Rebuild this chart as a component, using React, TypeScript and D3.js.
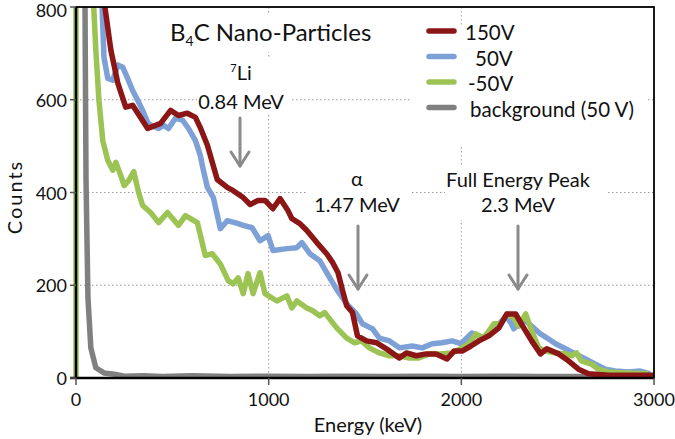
import React from 'react';
import * as d3 from 'd3';

// Energy (keV), Counts
const SERIES_150V: [number, number][] = [
  [60, 4000], [145, 815], [181, 707], [217, 636], [258, 584], [294, 588], [372, 538], [439, 549],
  [491, 577], [532, 566], [578, 571], [620, 562], [645, 540], [682, 502], [733, 428], [785, 411],
  [816, 404], [868, 389], [904, 374], [945, 383], [981, 383], [1022, 365], [1059, 387], [1100, 361],
  [1120, 344], [1162, 333], [1198, 318], [1250, 292], [1301, 268], [1332, 249], [1360, 227],
  [1384, 188], [1405, 156], [1435, 141], [1461, 91], [1508, 80], [1560, 76], [1611, 63], [1678, 43],
  [1715, 54], [1766, 48], [1818, 52], [1869, 52], [1926, 41], [1962, 58], [2004, 58], [2050, 69],
  [2091, 80], [2143, 91], [2195, 108], [2236, 138], [2282, 138], [2324, 108], [2365, 80],
  [2411, 52], [2443, 63], [2505, 52], [2556, 37], [2608, 19], [2660, 9], [2763, 6], [3000, 6],
];

const SERIES_50V: [number, number][] = [
  [50, 4000], [134, 815], [145, 692], [165, 646], [191, 642], [217, 675], [243, 670], [268, 646],
  [294, 620], [320, 599], [346, 577], [372, 551], [387, 545], [429, 538], [454, 545], [480, 538],
  [516, 560], [553, 556], [584, 538], [620, 512], [645, 480], [661, 448], [682, 411], [713, 389],
  [749, 322], [785, 339], [826, 335], [868, 329], [914, 324], [955, 296], [997, 307], [1022, 275],
  [1095, 279], [1146, 281], [1172, 292], [1214, 268], [1265, 253], [1317, 216], [1358, 188],
  [1405, 160], [1456, 138], [1487, 117], [1539, 106], [1575, 86], [1627, 80], [1678, 65],
  [1745, 69], [1797, 65], [1849, 74], [1900, 76], [1952, 80], [1998, 74], [2055, 97], [2107, 86],
  [2159, 102], [2210, 123], [2231, 134], [2257, 119], [2272, 106], [2298, 117], [2334, 123],
  [2365, 112], [2411, 95], [2453, 84], [2489, 74], [2541, 63], [2592, 52], [2644, 41], [2696, 30],
  [2747, 19], [2799, 15], [2866, 13], [2928, 15], [2980, 9],
];

const SERIES_M50V: [number, number][] = [
  [0, 0], [0, 6000], [92, 800], [103, 707], [119, 599], [139, 512], [165, 469], [191, 448],
  [207, 465], [232, 437], [250, 415], [274, 426], [300, 445], [325, 400], [346, 372], [387, 357],
  [429, 335], [475, 357], [532, 329], [568, 350], [630, 335], [671, 264], [707, 268], [749, 246],
  [790, 210], [816, 203], [842, 216], [868, 182], [893, 225], [919, 182], [955, 227], [981, 182],
  [1043, 166], [1095, 177], [1120, 151], [1146, 166], [1198, 151], [1229, 145], [1265, 134],
  [1291, 141], [1353, 108], [1405, 86], [1446, 76], [1482, 80], [1523, 65], [1575, 54], [1627, 48],
  [1680, 48], [1730, 43], [1780, 43], [1833, 52], [1885, 52], [1952, 54], [2004, 65], [2040, 74],
  [2076, 95], [2117, 86], [2169, 117], [2205, 117], [2236, 138], [2272, 130], [2298, 112],
  [2334, 138], [2365, 102], [2401, 65], [2437, 58], [2489, 54], [2541, 52], [2572, 48], [2598, 54],
  [2623, 37], [2675, 30], [2711, 19], [2763, 13], [2850, 11], [2969, 9],
];

const SERIES_BG: [number, number][] = [
  [30, 2000], [52, 426], [62, 173], [77, 65], [103, 22], [145, 11], [200, 8], [250, 4], [350, 5],
  [450, 3], [600, 5], [800, 3], [1000, 4], [1200, 3], [1400, 4], [1600, 3], [1800, 4], [2000, 3],
  [2200, 4], [2400, 3], [2600, 3], [2800, 3], [3000, 3],
];

const X_TICKS = [0, 1000, 2000, 3000];
const Y_TICKS = [0, 200, 400, 600, 800];
const GRID_X = [1000, 2000];
const GRID_Y = [200, 400, 600];

const LEGEND = [
  { label: '150V', color: '#8c1515', dx: 0 },
  { label: '50V', color: '#7da0d7', dx: 10 },
  { label: '-50V', color: '#9cc455', dx: 3 },
  { label: 'background (50 V)', color: '#808080', dx: 5 },
];

const FONT = 'Lato, "Open Sans", sans-serif';

export default function App() {
  const W = 675;
  const H = 439;
  const left = 76, right = 654, top = 7, bottom = 378;

  const x = d3.scaleLinear().domain([0, 3000]).range([left, right]);
  const y = d3.scaleLinear().domain([0, 800]).range([bottom, top]);

  const line = d3.line<[number, number]>()
    .x((d) => x(d[0]))
    .y((d) => y(d[1]));

  const curves = [
    { data: SERIES_50V, color: '#7da0d7' },
    { data: SERIES_M50V, color: '#9cc455' },
    { data: SERIES_BG, color: '#808080' },
    { data: SERIES_150V, color: '#8c1515' },
  ];

  const arrow = (ax: number, y1: number, y2: number) => (
    <g stroke="#8a8a8a" strokeWidth={3} fill="none" strokeLinecap="round" strokeLinejoin="round">
      <line x1={ax} x2={ax} y1={y1} y2={y2} />
      <polyline points={`${ax - 9},${y2 - 14} ${ax},${y2} ${ax + 9},${y2 - 14}`} />
    </g>
  );

  return (
    <svg width={W} height={H} style={{ position: 'absolute', left: 0, top: 0, background: '#fff' }}
      fontFamily={FONT}>
      <defs>
        <clipPath id="plot">
          <rect x={left - 4} y={top} width={right - left + 4} height={bottom - top} />
        </clipPath>
      </defs>
      <rect width={W} height={H} fill="#fff" />

      {/* grid */}
      <g stroke="#9a9a9a" strokeWidth={1} strokeDasharray="1.5,2.5">
        {GRID_Y.map((v) => <line key={v} x1={left} x2={right} y1={y(v)} y2={y(v)} />)}
        {GRID_X.map((v) => <line key={v} x1={x(v)} x2={x(v)} y1={top} y2={bottom} />)}
      </g>

      {/* label boxes hide grid */}
      <g fill="#fff">
        <rect x={165} y={14} width={215} height={38} />
        <rect x={197} y={58} width={95} height={56} />
        <rect x={410} y={27} width={237} height={120} />
        <rect x={307} y={166} width={103} height={54} />
        <rect x={445} y={166} width={163} height={54} />
      </g>

      {/* curves */}
      <g clipPath="url(#plot)" fill="none" strokeWidth={5.5} strokeLinejoin="round">
        {curves.map((c, i) => <path key={i} d={line(c.data) || ''} stroke={c.color} />)}
      </g>

      {/* frame and axes */}
      <rect x={left} y={top} width={right - left} height={bottom - top} fill="none" stroke="#000" strokeWidth={1.8} />
      <line x1={left} x2={left} y1={top} y2={bottom} stroke="#000" strokeWidth={2.5} />
      <line x1={left - 6} x2={right} y1={bottom} y2={bottom} stroke="#000" strokeWidth={2.5} />
      <g stroke="#555" strokeWidth={1.5}>
        {Y_TICKS.map((v) => <line key={v} x1={left - 6} x2={left} y1={y(v)} y2={y(v)} />)}
        {X_TICKS.map((v) => <line key={v} x1={x(v)} x2={x(v)} y1={bottom} y2={bottom + 7} />)}
      </g>
      <g fontSize={18} fill="#111">
        {Y_TICKS.map((v) => (
          <text key={v} x={left - 9} y={Math.max(y(v), 10)} textAnchor="end" dominantBaseline="central">{v}</text>
        ))}
        {X_TICKS.map((v) => (
          <text key={v} x={x(v)} y={399} textAnchor="middle" dominantBaseline="central">{v}</text>
        ))}
      </g>
      <text x={368} y={424} fontSize={20} textAnchor="middle" dominantBaseline="central" fill="#111">Energy (keV)</text>
      <text transform="translate(14,197) rotate(-90)" fontSize={20} letterSpacing={2} textAnchor="middle" dominantBaseline="central" fill="#111">Counts</text>

      {/* title */}
      <text x={170} y={41} fontSize={24} fill="#111">
        B<tspan fontSize={14} dy={5}>4</tspan><tspan dy={-5}>C Nano-Particles</tspan>
      </text>

      {/* legend */}
      {LEGEND.map((l, i) => (
        <g key={l.label}>
          <line x1={429} x2={454} y1={31 + i * 25.5} y2={31 + i * 25.5} stroke={l.color} strokeWidth={5.5} strokeLinecap="round" />
          <text x={465 + l.dx} y={32 + i * 25.5} fontSize={20.5} dominantBaseline="central" fill="#111">{l.label}</text>
        </g>
      ))}

      {/* annotations */}
      <g fontSize={20} fill="#111" textAnchor="middle">
        <text x={241} y={80}><tspan fontSize={11} dy={-8}>7</tspan><tspan dy={8}>Li</tspan></text>
        <text x={241} y={109}>0.84 MeV</text>
        <text x={357} y={186}>α</text>
        <text x={357} y={212}>1.47 MeV</text>
        <text x={518} y={187}>Full Energy Peak</text>
        <text x={518} y={212}>2.3 MeV</text>
      </g>
      {arrow(240, 118, 166)}
      {arrow(358, 226, 289)}
      {arrow(518, 226, 289)}
    </svg>
  );
}
